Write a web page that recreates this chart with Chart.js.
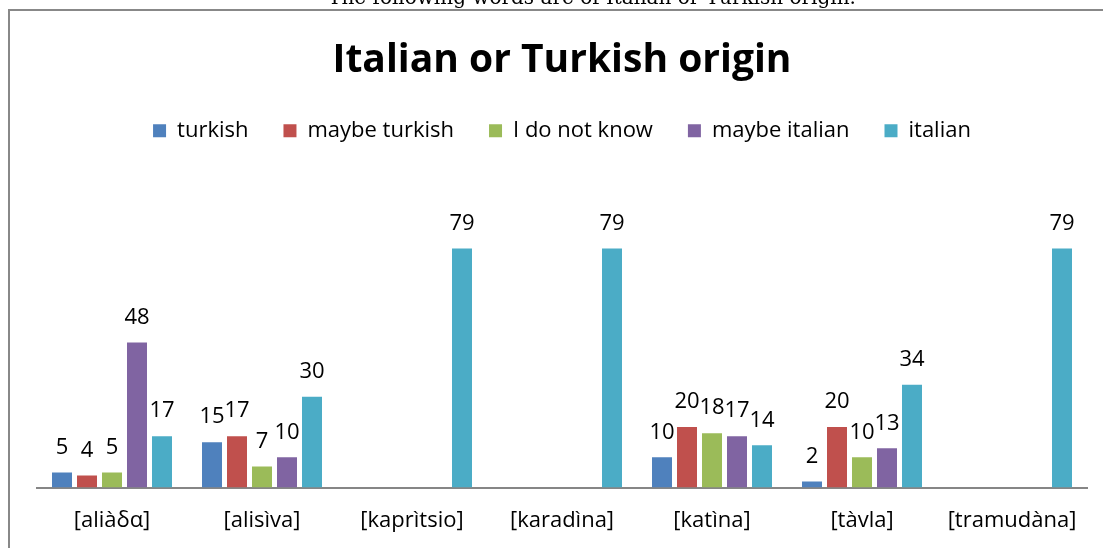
<!DOCTYPE html>
<html>
<head>
<meta charset="utf-8">
<title>Italian or Turkish origin</title>
<script src="https://cdn.jsdelivr.net/npm/chart.js@4/dist/chart.umd.min.js"></script>
<style>
  html, body { margin: 0; padding: 0; background: #fff; }
  #wrap { position: relative; width: 1103px; height: 548px; }
</style>
</head>
<body>
<div id="wrap"><canvas id="originChart"></canvas></div>
<script>
const words = ['[aliàδα]', '[alisìva]', '[kaprìtsio]', '[karadìna]', '[katìna]', '[tàvla]', '[tramudàna]'];

// answers per word; null = nobody picked it
const turkish      = [5, 15, null, null, 10, 2, null];
const maybeTurkish = [4, 17, null, null, 20, 20, null];
const dontKnow     = [5, 7, null, null, 18, 10, null];
const maybeItalian = [48, 10, null, null, 17, 13, null];
const italian      = [17, 30, 79, 79, 14, 34, 79];

const seriesNames = ['turkish', 'maybe turkish', 'I do not know', 'maybe italian', 'italian'];
const seriesColors = ['#4F81BD', '#C0504D', '#9BBB59', '#8064A2', '#4BACC6'];

const FONT = '"Open Sans", Calibri, sans-serif';

// frame + the caption line above the chart box
const framePlugin = {
    id: 'frame',
    beforeDraw(chart) {
        const ctx = chart.ctx;
        ctx.save();
        ctx.strokeStyle = '#888';
        ctx.lineWidth = 2;
        ctx.strokeRect(9, 10, chart.width + 20, chart.height + 20);
        ctx.fillStyle = '#000';
        ctx.font = '20px "DejaVu Serif", "Liberation Serif", serif';
        ctx.textAlign = 'center';
        ctx.textBaseline = 'alphabetic';
        ctx.fillText('The following words are of Italian or Turkish origin.', 592, 4);
        ctx.restore();
    }
};

// value labels above each bar
const valueLabels = {
    id: 'valueLabels',
    afterDatasetsDraw(chart) {
        const ctx = chart.ctx;
        ctx.save();
        ctx.font = '22px ' + FONT;
        ctx.fillStyle = '#000';
        ctx.textAlign = 'center';
        ctx.textBaseline = 'middle';
        chart.data.datasets.forEach((ds, i) => {
            chart.getDatasetMeta(i).data.forEach((bar, j) => {
                const v = ds.data[j];
                if (v === null || v === undefined) return;
                ctx.fillText(String(v), bar.x, bar.y - 25);
            });
        });
        ctx.restore();
    }
};

const seriesData = [turkish, maybeTurkish, dontKnow, maybeItalian, italian];

new Chart(document.getElementById('originChart'), {
    type: 'bar',
    data: {
        labels: words,
        datasets: seriesData.map((d, i) => ({
            label: seriesNames[i],
            data: d,
            backgroundColor: seriesColors[i],
            borderWidth: 0,
            categoryPercentage: 0.8333,
            barPercentage: 0.8
        }))
    },
    options: {
        responsive: true,
        maintainAspectRatio: false,
        animation: false,
        layout: { padding: { left: 37, right: 16, top: 0, bottom: 2 } },
        scales: {
            x: {
                grid: { display: false },
                border: { display: true, color: '#868686', width: 2 },
                ticks: { color: '#000', padding: 12, font: { family: FONT, size: 22 } }
            },
            y: {
                display: false,
                min: 0,
                max: 111
            }
        },
        plugins: {
            title: {
                display: true,
                text: 'Italian or Turkish origin',
                color: '#000',
                font: { family: FONT, size: 39, weight: 'bold' },
                padding: { top: 37, bottom: 1 }
            },
            legend: {
                position: 'top',
                labels: {
                    color: '#000',
                    boxWidth: 13,
                    boxHeight: 13,
                    padding: 35,
                    font: { family: FONT, size: 22 }
                }
            },
            tooltip: { enabled: false }
        }
    },
    plugins: [framePlugin, valueLabels]
});
</script>
</body>
</html>
